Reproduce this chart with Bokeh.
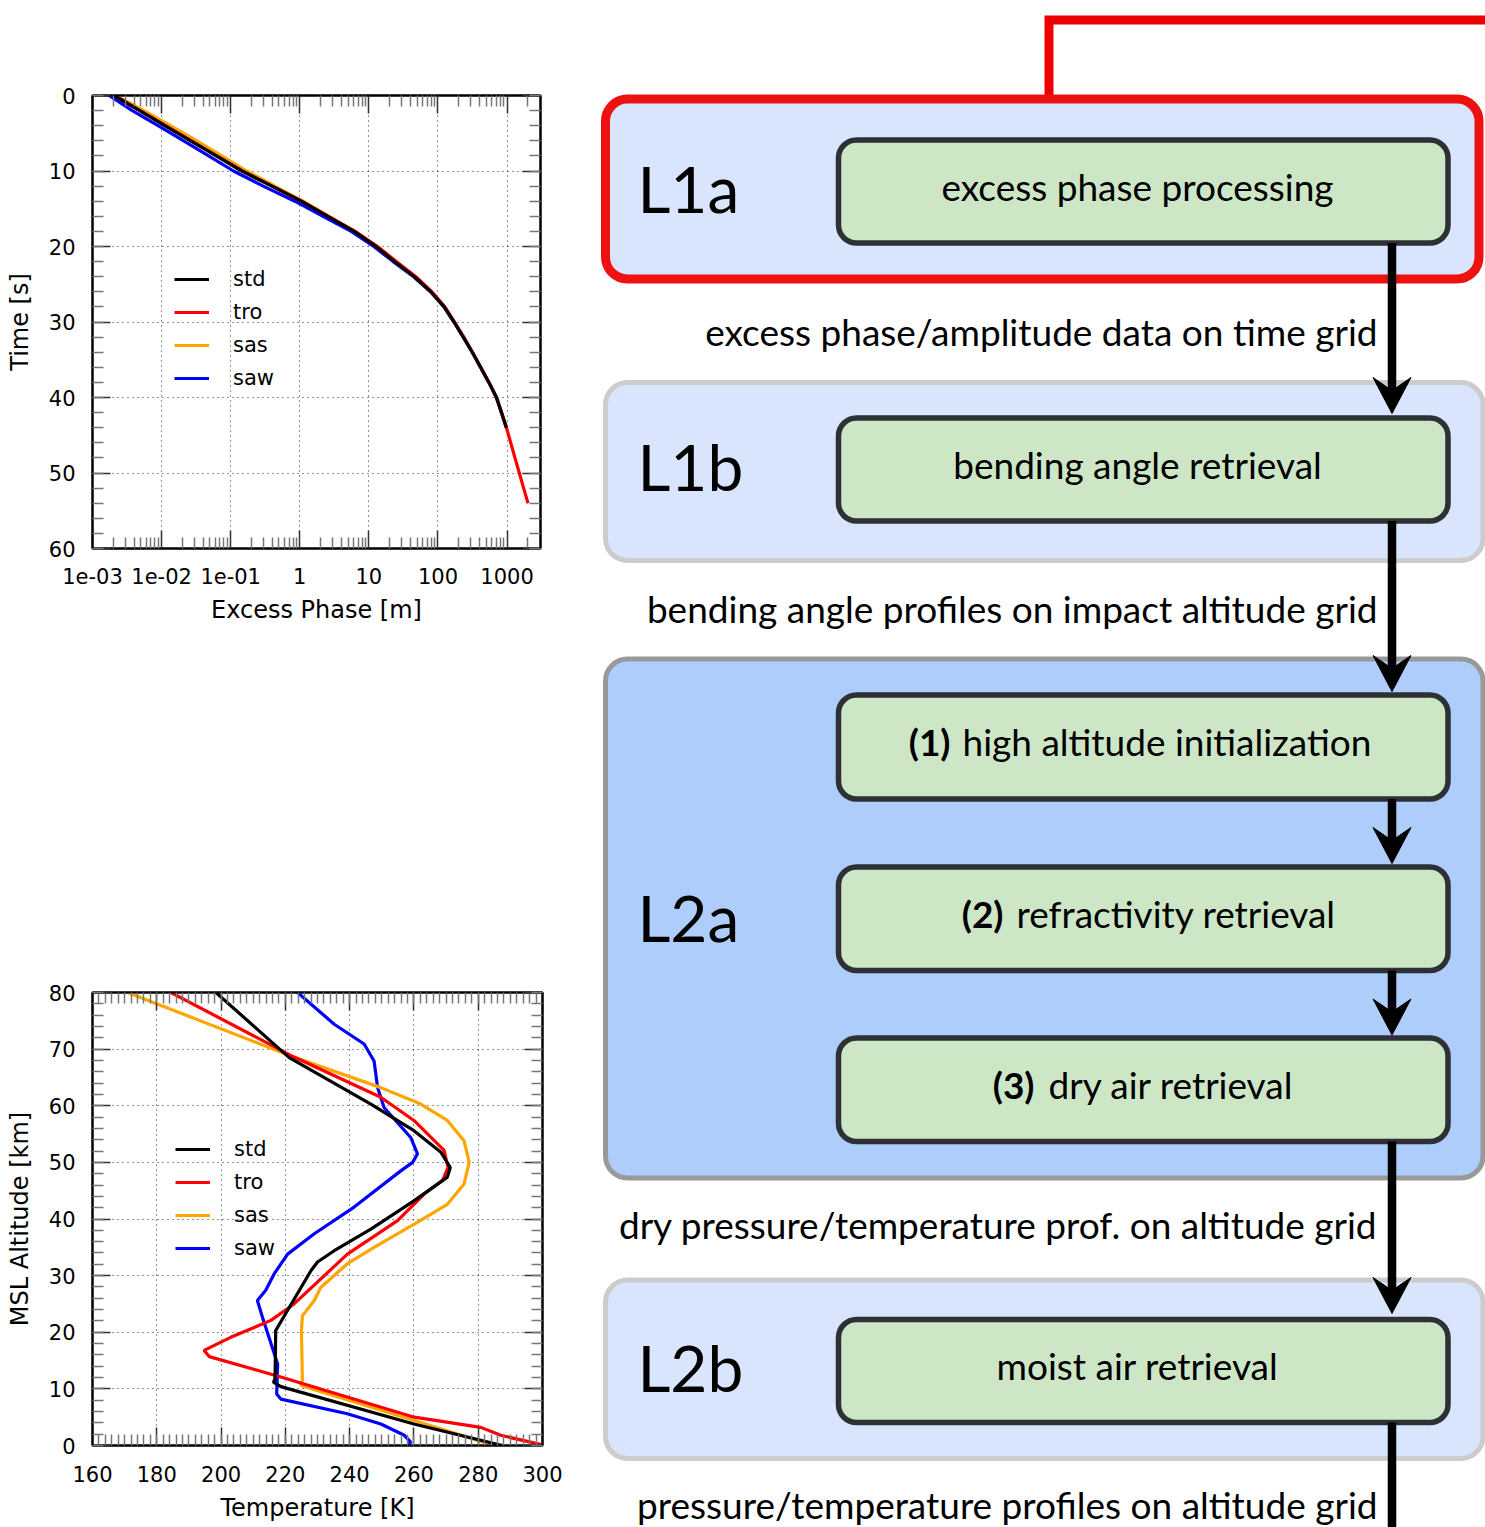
import numpy as np
from bokeh.plotting import figure
from bokeh.layouts import row, column, Spacer
from bokeh.models import (Range1d, FixedTicker, SingleIntervalTicker, LinearAxis,
                          LogAxis, Legend, LegendItem, CustomJSTickFormatter)
from bokeh.embed import file_html
from bokeh.resources import INLINE
from bokeh.core.properties import value

# ---------------- data: excess phase vs time ----------------
t_main = [0, 2, 4, 6, 8, 10, 12, 14, 16, 18, 20, 22, 24, 26, 28, 30, 32, 34, 36, 38, 40, 42, 44]
t_tro = [0, 2, 4, 6, 8, 10, 12, 14, 16, 18, 20, 22, 24, 26, 28, 30, 32, 34, 36, 38, 40, 42, 44,
         46, 48, 50, 52, 54]
phase_std = [0.00205, 0.00481, 0.0111, 0.0264, 0.0618, 0.145, 0.395, 1.05, 2.54, 6.14, 12.7, 23.4,
             45.4, 78.9, 123, 171, 233, 314, 414, 546, 703, 830, 980]
phase_tro = [0.0021, 0.0049, 0.0114, 0.027, 0.063, 0.148, 0.40, 1.06, 2.6, 6.3, 13.4, 25.0, 48.0,
             82.0, 126, 174, 236, 316, 416, 548, 705, 832, 982, 1130, 1303, 1505, 1738, 2010]
phase_sas = [0.00217, 0.00555, 0.0134, 0.0325, 0.0745, 0.171, 0.436, 1.12, 2.65, 6.3, 12.9, 23.6,
             45.6, 79, 123, 171, 233, 314, 414, 546, 703, 830, 980]
phase_saw = [0.00174, 0.00377, 0.0089, 0.0209, 0.048, 0.110, 0.296, 0.848, 2.17, 5.56, 11.8, 22.5,
             44.5, 78, 122, 170, 232, 313, 413, 545, 702, 829, 979]
phase_ticks = [1e-3, 1e-2, 1e-1, 1, 10, 100, 1000]
phase_tick_labels = ["1e-03", "1e-02", "1e-01", "1", "10", "100", "1000"]

# ---------------- data: temperature profiles ----------------
std_T = [287.5, 260.0, 218.6, 216.3, 216.8, 217.0, 228.0, 230.0, 235.2, 246.6, 260.0, 270.4, 271.3,
         268.4, 260.0, 246.6, 221.2, 198.4]
std_z = [0, 3.8, 10.4, 11.2, 11.8, 20.3, 30.9, 32.4, 34.4, 38.2, 43.2, 47.4, 49.1, 51.8, 55.6, 60.3,
         68.5, 80]
tro_T = [300.0, 287.0, 280.8, 260.1, 218.6, 196.3, 194.7, 203.0, 215.5, 222.7, 239.3, 254.9, 263.2,
         268.9, 270.6, 269.4, 260.0, 249.7, 222.7, 184.4]
tro_z = [0.1, 1.8, 3.2, 5.0, 12.1, 15.7, 16.8, 19.1, 22.1, 25.0, 33.8, 39.7, 44.4, 46.8, 49.1, 52.1,
         57.4, 61.5, 68.6, 80]
sas_T = [285.0, 260.1, 224.8, 225.3, 225.0, 225.3, 229.0, 231.0, 239.3, 247.6, 260.1, 270.4, 275.6,
         277.2, 275.6, 270.4, 262.1, 249.7, 221.7, 170.9]
sas_z = [0, 4.4, 10.6, 11.5, 20.3, 22.9, 25.6, 27.9, 32.1, 35.0, 39.1, 42.6, 46.2, 50.0, 53.8, 57.4,
         60.3, 63.2, 68.8, 80]
saw_T = [258.0, 259.0, 257.0, 249.7, 239.3, 218.6, 217.3, 217.6, 212.9, 211.3, 213.9, 216.5, 220.7,
         229.0, 241.4, 255.9, 259.6, 261.1, 259.0, 250.7, 248.7, 247.6, 244.5, 235.2, 223.8]
saw_z = [0, 0.6, 1.8, 3.8, 5.6, 8.2, 9.1, 14.4, 22.6, 25.6, 27.4, 30.3, 33.8, 37.4, 42.1, 48.5,
         50.0, 51.5, 54.4, 59.7, 63.2, 67.9, 70.9, 74.4, 80]

series_names = ["std", "tro", "sas", "saw"]
series_colors = ["#000000", "#ff0000", "#ffa500", "#0000ff"]

# ---------------- flowchart content ----------------
level_labels = ["L1a", "L1b", "L2a", "L2b"]
box_texts = ["excess phase processing", "bending angle retrieval", "moist air retrieval"]
step_numbers = ["(1)", "(2)", "(3)"]
step_texts = ["high altitude initialization", "refractivity retrieval", "dry air retrieval"]
flow_texts = ["excess phase/amplitude data on time grid",
              "bending angle profiles on impact altitude grid",
              "dry pressure/temperature prof. on altitude grid",
              "pressure/temperature profiles on altitude grid"]

FONT = "DejaVu Sans"
FLOW_FONT = "Lato"


def style_axis(ax, labels=True):
    ax.axis_line_color = "black"
    ax.axis_line_width = 2
    ax.major_tick_in = 18
    ax.major_tick_out = 0
    ax.minor_tick_in = 11
    ax.minor_tick_out = 0
    ax.major_tick_line_color = "#333333"
    ax.minor_tick_line_color = "#777777"
    ax.major_tick_line_width = 1.5
    ax.minor_tick_line_width = 1.5
    ax.major_label_text_font = FONT
    ax.major_label_text_font_size = "21px"
    ax.major_label_text_color = "black"
    ax.axis_label_text_font = FONT
    ax.axis_label_text_font_size = "24px"
    ax.axis_label_text_font_style = "normal"
    ax.axis_label_text_color = "black"
    if not labels:
        ax.major_label_text_font_size = "2px"
        ax.major_label_text_alpha = 0
        ax.major_label_standoff = 0


def style_grid(p):
    for g in (p.xgrid, p.ygrid):
        g.grid_line_color = "#000000"
        g.grid_line_alpha = 0.85
        g.grid_line_width = 1
        g.grid_line_dash = "1 4"


def make_legend(p, renderers, loc):
    items = [LegendItem(label=n, renderers=[r]) for n, r in zip(series_names, renderers)]
    leg = Legend(items=items, location=loc, orientation="vertical", glyph_width=35,
                 glyph_height=20, label_standoff=24, label_height=20, spacing=9, padding=0,
                 margin=0, border_line_alpha=0, background_fill_alpha=0,
                 label_text_font=FONT, label_text_font_size="21px", label_text_color="black")
    p.add_layout(leg)


def log_formatter():
    return CustomJSTickFormatter(args=dict(tvals=phase_ticks, labs=phase_tick_labels), code="""
        let best = 0, bd = Infinity;
        for (let i = 0; i < tvals.length; i++) {
            const d = Math.abs(Math.log10(tvals[i]) - Math.log10(tick));
            if (d < bd) { bd = d; best = i; }
        }
        return labs[best];
    """)

LW = 3.2

# ---------------- plot 1: excess phase ----------------
p1 = figure(width=560, height=640, x_axis_type="log", x_range=Range1d(1e-3, 3050),
            y_range=Range1d(60, 0), output_backend="svg", toolbar_location=None,
            min_border_left=90, min_border_right=20, min_border_top=95, min_border_bottom=92)
p1.outline_line_color = "black"
p1.outline_line_width = 2
minor_log = [m * 10.0 ** e for e in range(-3, 4) for m in range(2, 10)]
p1.xaxis.ticker = FixedTicker(ticks=phase_ticks, minor_ticks=minor_log)
p1.xaxis.formatter = log_formatter()
p1.yaxis.ticker = SingleIntervalTicker(interval=10, num_minor_ticks=5)
p1.xaxis.axis_label = "Excess Phase [m]"
p1.yaxis.axis_label = "Time [s]"
style_axis(p1.xaxis[0])
style_axis(p1.yaxis[0])
p1.xaxis.major_label_standoff = 19
p1.xaxis.axis_label_standoff = 9
p1.yaxis.major_label_standoff = 17
p1.yaxis.axis_label_standoff = 12
ax_top = LogAxis(ticker=FixedTicker(ticks=phase_ticks, minor_ticks=minor_log),
                 formatter=log_formatter())
style_axis(ax_top, labels=False)
p1.add_layout(ax_top, "above")
ax_right = LinearAxis(ticker=SingleIntervalTicker(interval=10, num_minor_ticks=5))
style_axis(ax_right, labels=False)
p1.add_layout(ax_right, "right")
style_grid(p1)

r_saw = p1.line(phase_saw, t_main, line_color=series_colors[3], line_width=LW)
r_sas = p1.line(phase_sas, t_main, line_color=series_colors[2], line_width=LW)
r_tro = p1.line(phase_tro, t_tro, line_color=series_colors[1], line_width=LW)
r_std = p1.line(phase_std, t_main, line_color=series_colors[0], line_width=LW)
make_legend(p1, [r_std, r_tro, r_sas, r_saw], (82, 158))

# ---------------- plot 2: temperature ----------------
p2 = figure(width=562, height=567, x_range=Range1d(160, 300), y_range=Range1d(0, 80),
            output_backend="svg", toolbar_location=None,
            min_border_left=92, min_border_right=20, min_border_top=32, min_border_bottom=82)
p2.outline_line_color = "black"
p2.outline_line_width = 2
p2.xaxis.ticker = SingleIntervalTicker(interval=20, num_minor_ticks=10)
p2.yaxis.ticker = SingleIntervalTicker(interval=10, num_minor_ticks=5)
p2.xaxis.axis_label = "Temperature [K]"
p2.yaxis.axis_label = "MSL Altitude [km]"
style_axis(p2.xaxis[0])
style_axis(p2.yaxis[0])
p2.xaxis.major_label_standoff = 20
p2.xaxis.axis_label_standoff = 9
p2.yaxis.major_label_standoff = 17
p2.yaxis.axis_label_standoff = 12
ax2_top = LinearAxis(ticker=SingleIntervalTicker(interval=20, num_minor_ticks=10))
style_axis(ax2_top, labels=False)
p2.add_layout(ax2_top, "above")
ax2_right = LinearAxis(ticker=SingleIntervalTicker(interval=10, num_minor_ticks=5))
style_axis(ax2_right, labels=False)
p2.add_layout(ax2_right, "right")
style_grid(p2)

q_saw = p2.line(saw_T, saw_z, line_color=series_colors[3], line_width=LW)
q_sas = p2.line(sas_T, sas_z, line_color=series_colors[2], line_width=LW)
q_tro = p2.line(tro_T, tro_z, line_color=series_colors[1], line_width=LW)
q_std = p2.line(std_T, std_z, line_color=series_colors[0], line_width=LW)
make_legend(p2, [q_std, q_tro, q_sas, q_saw], (83, 185))

# ---------------- flowchart ----------------
flow = figure(width=923, height=1527, x_range=Range1d(562, 1485), y_range=Range1d(1527, 0),
              output_backend="svg", toolbar_location=None, x_axis_location=None,
              y_axis_location=None, min_border=0)
flow.grid.visible = False
flow.outline_line_color = None

# red connector from the top
flow.line([1048.5, 1048.5, 1495], [98.5, 19.5, 19.5], line_color="#ee0000", line_width=9,
          line_join="miter")

# level boxes
flow.quad(left=[605, 605, 605, 605], right=[1478.5, 1482.5, 1482.5, 1482.5],
          top=[98.5, 382, 658.5, 1279.5], bottom=[278.5, 560, 1177.5, 1458],
          fill_color=["#d8e5fc", "#d8e5fc", "#afcdfb", "#d8e5fc"],
          line_color=["#ee1111", "#cccccc", "#999999", "#cccccc"],
          line_width=[9, 5, 5, 5], border_radius=22)

# process boxes
inner_top = [139.5, 417.5, 694.5, 866.5, 1037.5, 1319]
inner_bottom = [242.5, 520.5, 798.5, 970, 1141, 1422]
flow.quad(left=[838] * 6, right=[1447.5] * 6, top=inner_top, bottom=inner_bottom,
          fill_color="#cde6c5", line_color="#2d3136", line_width=5.5, border_radius=18)

# arrows
ax_x = 1391.5
shaft_start = [242.5, 520.5, 798.5, 970, 1141, 1422]
shaft_end = [398, 676, 848, 1019, 1298, 1530]
flow.segment(x0=[ax_x] * 6, y0=shaft_start, x1=[ax_x] * 6, y1=shaft_end, line_color="black",
             line_width=8.5)
tips = [413, 691, 863, 1034.5, 1313]
flow.patches(xs=[[ax_x - 19, ax_x, ax_x + 19, ax_x] for _ in tips],
             ys=[[t - 36, t, t - 36, t - 23] for t in tips],
             fill_color="black", line_color="black", line_width=1)

# level labels (text_baseline middle; y = baseline - 0.387 * size)
flow.text(x=[637] * 4, y=[188, 466, 917, 1367], text=level_labels, text_font=value(FLOW_FONT),
          text_font_size="64px", text_align="left", text_baseline="middle",
          text_color="black")

# box labels
flow.text(x=[1137] * 3, y=[185.7, 463.7, 1365.2], text=box_texts, text_font=value(FLOW_FONT),
          text_font_size="37px", text_align="center", text_baseline="middle",
          text_color="black")
flow.text(x=[950, 1003, 1034], y=[741.2, 912.7, 1083.7], text=step_numbers,
          text_font=value(FLOW_FONT), text_font_size="37px", text_font_style="bold",
          text_align="right", text_baseline="middle", text_color="black")
flow.text(x=[962, 1016, 1048], y=[741.2, 912.7, 1083.7], text=step_texts,
          text_font=value(FLOW_FONT), text_font_size="37px", text_align="left",
          text_baseline="middle", text_color="black")

# data-flow labels
flow.text(x=[1377] * 4, y=[330.7, 607.7, 1223.7, 1503.7], text=flow_texts,
          text_font=value(FLOW_FONT), text_font_size="37px", text_align="right",
          text_baseline="middle", text_color="black")

left_col = column(p1, Spacer(width=560, height=320), p2)
layout = row(left_col, flow)

open("out.html", "w").write(file_html(layout, INLINE))
